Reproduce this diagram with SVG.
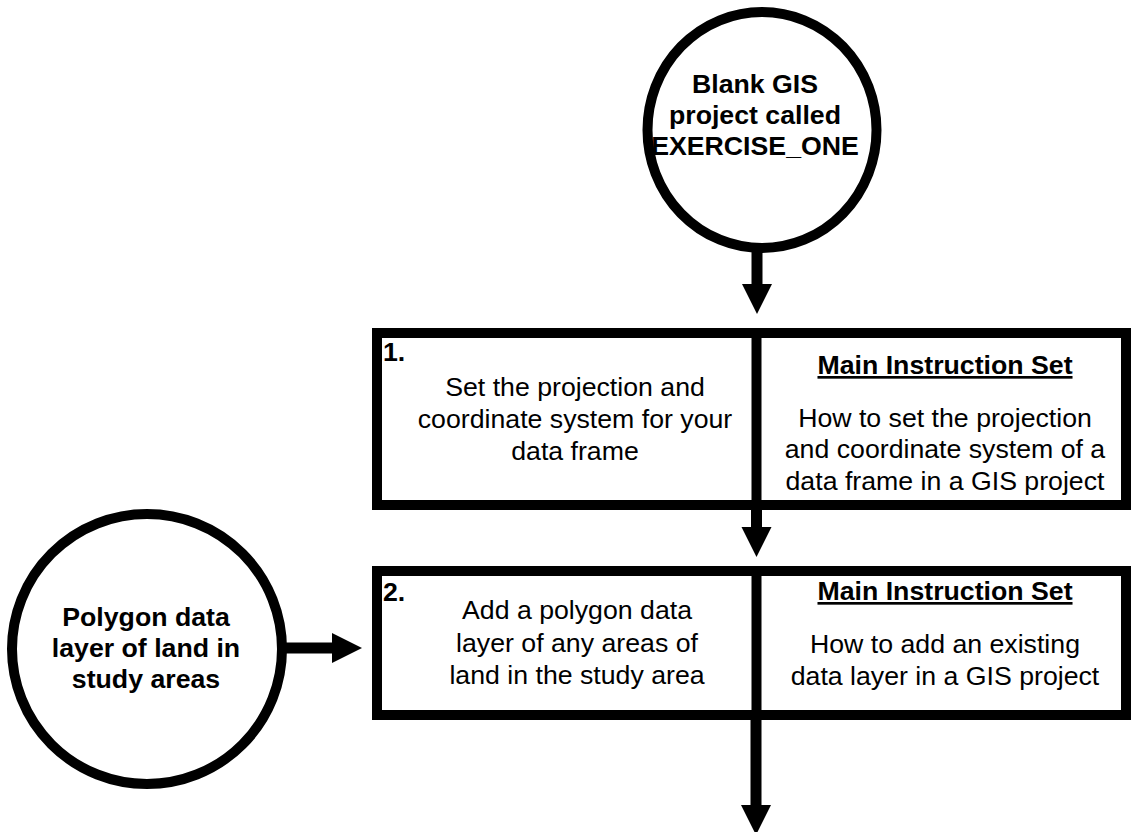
<svg xmlns="http://www.w3.org/2000/svg" width="1131" height="832" viewBox="0 0 1131 832">
<style>
.shape{fill:#fff;stroke:#000;stroke-width:10}
.div{stroke:#000;stroke-width:10}
.t{font-family:"Liberation Sans",Arial,sans-serif;font-size:26.7px;fill:#000;text-anchor:middle}
.b{font-weight:bold}
.u{text-decoration:underline}
.num{font-family:"Liberation Sans",Arial,sans-serif;font-size:26.7px;font-weight:bold;fill:#000}
.conn{stroke:#000;stroke-width:11;fill:none}
</style>
<defs>
<marker id="ah" markerUnits="userSpaceOnUse" markerWidth="31" markerHeight="31" refX="1" refY="15" orient="auto" viewBox="0 0 31 31">
<path d="M0,0 L30,15 L0,30 z" fill="#000"/>
</marker>
</defs>
<g id="connectors">
<line class="conn" x1="757" y1="250" x2="757" y2="285" marker-end="url(#ah)"/>
<line class="conn" x1="756.5" y1="508" x2="756.5" y2="528" marker-end="url(#ah)"/>
<line class="conn" x1="756" y1="718" x2="756" y2="806" marker-end="url(#ah)"/>
<line class="conn" x1="285" y1="648" x2="333" y2="648" marker-end="url(#ah)"/>
</g>
<g id="start">
<ellipse class="shape" cx="762" cy="130" rx="114.5" ry="118"/>
<text class="t b" x="755" y="93">Blank GIS</text>
<text class="t b" x="755" y="124">project called</text>
<text class="t b" x="755" y="155">EXERCISE_ONE</text>
</g>
<g id="step1">
<rect class="shape" x="377" y="333" width="749" height="172"/>
<line class="div" x1="756.5" y1="333" x2="756.5" y2="505"/>
<text class="num" x="383" y="361">1.</text>
<text class="t" x="575" y="396">Set the projection and</text>
<text class="t" x="575" y="428">coordinate system for your</text>
<text class="t" x="575" y="460">data frame</text>
<text class="t b u" x="945" y="374">Main Instruction Set</text>
<text class="t" x="945" y="427">How to set the projection</text>
<text class="t" x="945" y="458">and coordinate system of a</text>
<text class="t" x="945" y="490">data frame in a GIS project</text>
</g>
<g id="polygon-input">
<circle class="shape" cx="147" cy="649" r="135"/>
<text class="t b" x="146" y="626">Polygon data</text>
<text class="t b" x="146" y="657">layer of land in</text>
<text class="t b" x="146" y="688">study areas</text>
</g>
<g id="step2">
<rect class="shape" x="377" y="571" width="749" height="144"/>
<line class="div" x1="756.5" y1="571" x2="756.5" y2="715"/>
<text class="num" x="383" y="601">2.</text>
<text class="t" x="577" y="619">Add a polygon data</text>
<text class="t" x="577" y="652">layer of any areas of</text>
<text class="t" x="577" y="684">land in the study area</text>
<text class="t b u" x="945" y="600">Main Instruction Set</text>
<text class="t" x="945" y="653">How to add an existing</text>
<text class="t" x="945" y="685">data layer in a GIS project</text>
</g>
</svg>
